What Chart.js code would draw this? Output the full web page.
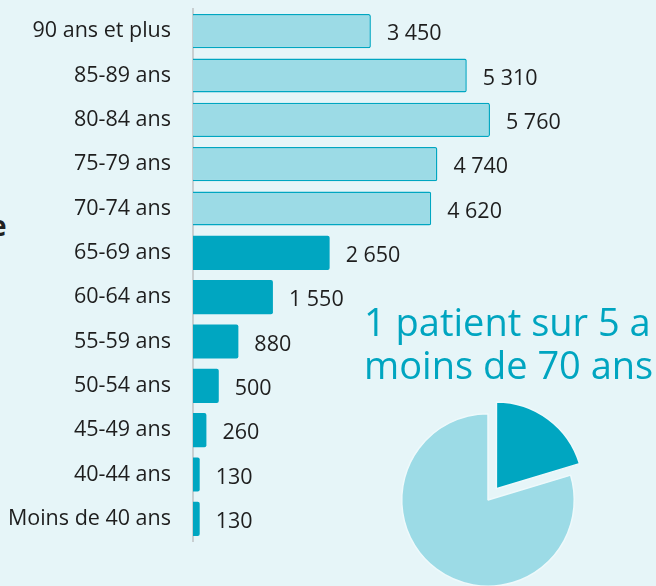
<!DOCTYPE html>
<html>
<head>
<meta charset="utf-8">
<script src="https://cdn.jsdelivr.net/npm/chart.js@4"></script>
<style>
  html, body { margin: 0; padding: 0; }
  body { width: 656px; height: 586px; overflow: hidden; position: relative; background: #e6f5f8; font-family: 'Open Sans', sans-serif; }
  #bars { position: absolute; left: 0; top: 0; }
  #pie { position: absolute; left: 373px; top: 385px; }
  #titre { position: absolute; left: 364px; top: 300px; font-size: 38px; line-height: 43px; color: #00a5c0; white-space: nowrap; }
  #coupe { position: absolute; left: -10px; top: 206px; font-size: 28px; font-weight: bold; color: #222; }
</style>
</head>
<body>
<div id="coupe">e</div>
<canvas id="bars" width="656" height="586"></canvas>
<div id="titre">1 patient sur 5 a<br>moins de 70 ans</div>
<canvas id="pie" width="230" height="230"></canvas>
<script>
const ages = ['90 ans et plus', '85-89 ans', '80-84 ans', '75-79 ans', '70-74 ans', '65-69 ans',
  '60-64 ans', '55-59 ans', '50-54 ans', '45-49 ans', '40-44 ans', 'Moins de 40 ans'];
const patients = [3450, 5310, 5760, 4740, 4620, 2650, 1550, 880, 500, 260, 130, 130];
const plus70 = [true, true, true, true, true, false, false, false, false, false, false, false];

const clair = '#9cdbe6';
const fonce = '#00a6c1';

function fmt(v) {
  return String(v).replace(/\B(?=(\d{3})+(?!\d))/g, ' ');
}

// valeurs écrites au bout des barres
const valeurs = {
  id: 'valeurs',
  afterDatasetsDraw(chart) {
    const ctx = chart.ctx;
    const meta = chart.getDatasetMeta(0);
    ctx.save();
    ctx.font = '21.5px "Open Sans"';
    ctx.fillStyle = '#1e1e1e';
    ctx.textBaseline = 'middle';
    meta.data.forEach((bar, i) => {
      ctx.fillText(fmt(patients[i]), bar.x + 16, bar.y + 3);
    });
    ctx.restore();
  }
};

new Chart(document.getElementById('bars'), {
  type: 'bar',
  data: {
    labels: ages,
    datasets: [{
      data: patients,
      backgroundColor: plus70.map(p => p ? clair : fonce),
      borderColor: fonce,
      borderWidth: plus70.map(p => p ? 1.5 : 0),
      borderRadius: 2,
      borderSkipped: 'start',
      barPercentage: 0.77,
      categoryPercentage: 1
    }]
  },
  options: {
    indexAxis: 'y',
    responsive: false,
    animation: false,
    layout: { padding: { top: 9, bottom: 45, left: 0, right: 0 } },
    plugins: { legend: { display: false }, tooltip: { enabled: false } },
    scales: {
      x: { display: false, min: 0, max: 8980 },
      y: {
        afterFit(scale) {
          scale.width = 193;
          scale.paddingTop = 0;
          scale.paddingBottom = 0;
        },
        grid: { display: false, drawTicks: false },
        border: { display: true, color: '#c9cfd1', width: 2 },
        ticks: { padding: 22, color: '#1e1e1e', font: { family: 'Open Sans', size: 21.5 } }
      }
    }
  },
  plugins: [valeurs]
});

const moins70 = patients.filter((v, i) => !plus70[i]).reduce((a, b) => a + b, 0);
const ageplus = patients.filter((v, i) => plus70[i]).reduce((a, b) => a + b, 0);

new Chart(document.getElementById('pie'), {
  type: 'pie',
  data: {
    labels: ['Moins de 70 ans', '70 ans et plus'],
    datasets: [{
      data: [moins70, ageplus],
      backgroundColor: [fonce, clair],
      borderColor: '#eef9fb',
      borderWidth: 1.5,
      offset: [56, 0]
    }]
  },
  options: {
    responsive: false,
    animation: false,
    plugins: { legend: { display: false }, tooltip: { enabled: false } }
  }
});
</script>
</body>
</html>
